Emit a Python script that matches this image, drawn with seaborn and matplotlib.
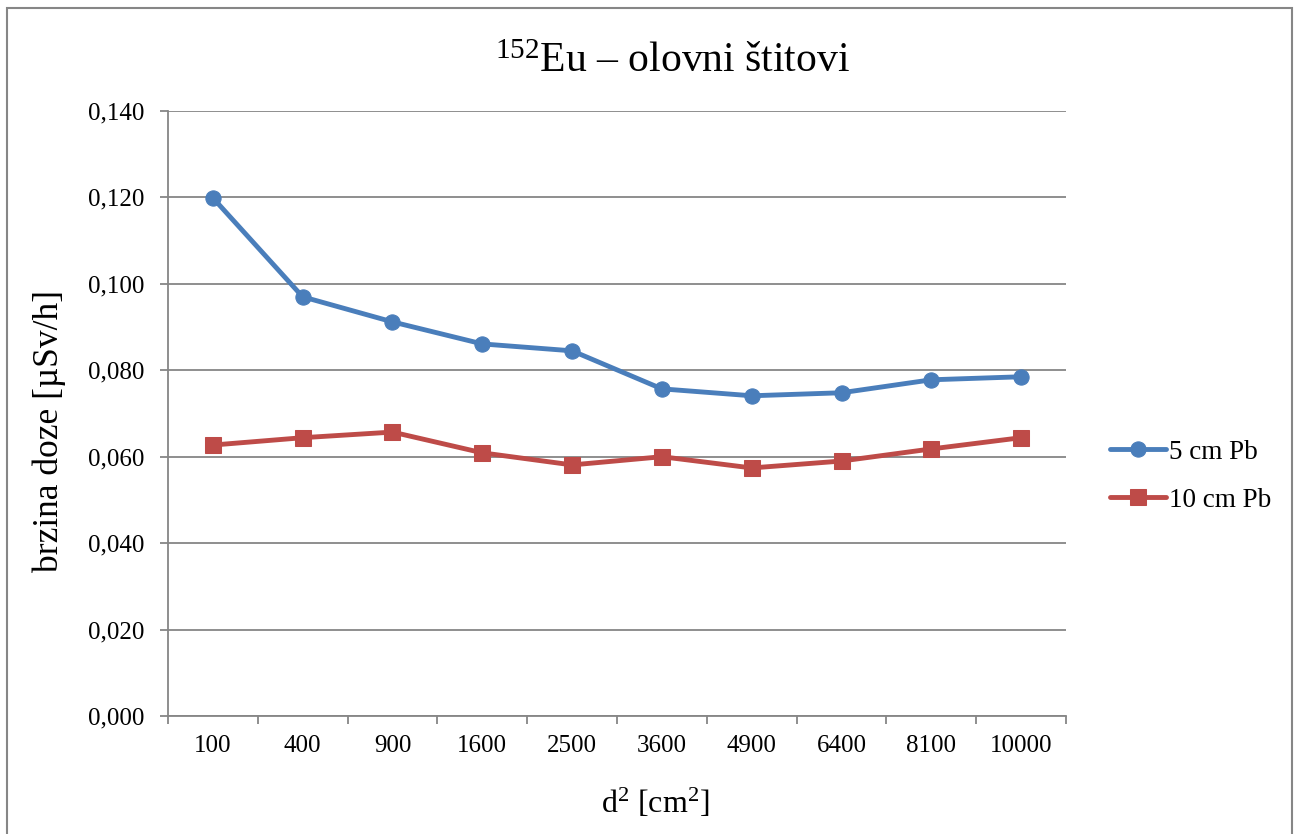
import numpy as np
import pandas as pd
import seaborn as sns
import matplotlib
matplotlib.use("Agg")
import matplotlib.pyplot as plt
from matplotlib.ticker import FixedLocator, FuncFormatter, MultipleLocator
from matplotlib.patches import Rectangle

# data
d2_labels = ["100", "400", "900", "1600", "2500", "3600", "4900", "6400", "8100", "10000"]
pb5 = [0.1199, 0.0970, 0.0912, 0.0861, 0.0845, 0.0757, 0.0741, 0.0748, 0.0778, 0.0785]
pb10 = [0.0627, 0.0644, 0.0657, 0.0609, 0.0581, 0.0600, 0.0574, 0.0590, 0.0618, 0.0644]

sns.set_style("white")
plt.rcParams['font.family'] = ['Liberation Serif', 'DejaVu Serif']
plt.rcParams['mathtext.fontset'] = 'custom'
plt.rcParams['mathtext.rm'] = 'Liberation Serif'
plt.rcParams['mathtext.default'] = 'regular'
plt.rcParams['text.color'] = 'black'
plt.rcParams['axes.labelcolor'] = 'black'
plt.rcParams['xtick.labelcolor'] = 'black'
plt.rcParams['ytick.labelcolor'] = 'black'

grid_col = '#868686'
blue = '#4A7EBB'
red = '#BE4B48'

fig = plt.figure(figsize=(12.98, 8.34), dpi=100)
ax = fig.add_axes([0.1294, 0.1415, 0.8213 - 0.1294, 0.8669 - 0.1415])

pos = np.arange(len(d2_labels))
sns.lineplot(x=pos, y=pb5, ax=ax, color=blue, lw=3.5, marker='o', markersize=11,
             markeredgecolor=blue, label='5 cm Pb')
sns.lineplot(x=pos, y=pb10, ax=ax, color=red, lw=3.5, marker='s', markersize=12,
             markeredgecolor=red, label='10 cm Pb')

ax.set_xlim(-0.5, len(d2_labels) - 0.5)
ax.set_ylim(0, 0.140)
ax.yaxis.set_major_locator(MultipleLocator(0.020))
ax.yaxis.set_major_formatter(FuncFormatter(lambda v, p: f"{v:.3f}".replace('.', ',')))

# ticks between categories, labels in the middle
ax.xaxis.set_major_locator(FixedLocator(np.arange(-0.5, len(d2_labels), 1.0)))
ax.xaxis.set_major_formatter(FuncFormatter(lambda v, p: ""))
ax.set_xticks(pos, d2_labels, minor=True)
ax.tick_params(axis='x', which='major', direction='out', length=6, width=1.3, color=grid_col, bottom=True)
ax.tick_params(axis='x', which='minor', length=0, labelsize=18, pad=14, labelcolor='black')
ax.tick_params(axis='y', which='major', direction='out', length=6, width=1.3, color=grid_col,
               left=True, labelsize=18, pad=11, labelcolor='black')

ax.yaxis.grid(True, color=grid_col, lw=1.3)
ax.set_axisbelow(True)
for s in ['top', 'right']:
    ax.spines[s].set_visible(False)
for s in ['left', 'bottom']:
    ax.spines[s].set_color(grid_col)
    ax.spines[s].set_linewidth(1.3)

ax.set_xlabel("d$^{2}$ [cm$^{2}$]", fontsize=23, color='black')
ax.xaxis.set_label_coords(0.543, -0.117)
ax.set_ylabel("brzina doze [µSv/h]", fontsize=25.5, color='black')
ax.yaxis.set_label_coords(-0.114, 0.471)
ax.set_title("$^{152}$Eu – olovni štitovi", fontsize=30, pad=28, x=0.562, color='black')

ax.get_legend().remove()
h, l = ax.get_legend_handles_labels()
fig.legend(h, l, loc='center left', bbox_to_anchor=(0.836, 0.429), frameon=False,
           fontsize=19.5, handlelength=2.1, handletextpad=0.1, labelspacing=0.85,
           labelcolor='black')

# outer chart border
fig.patches.append(Rectangle((0.0055, -0.01), 0.9895, 1 - 0.0095 + 0.01, transform=fig.transFigure,
                             fill=False, edgecolor=grid_col, lw=1.5))

fig.savefig("out.png", dpi=100)
